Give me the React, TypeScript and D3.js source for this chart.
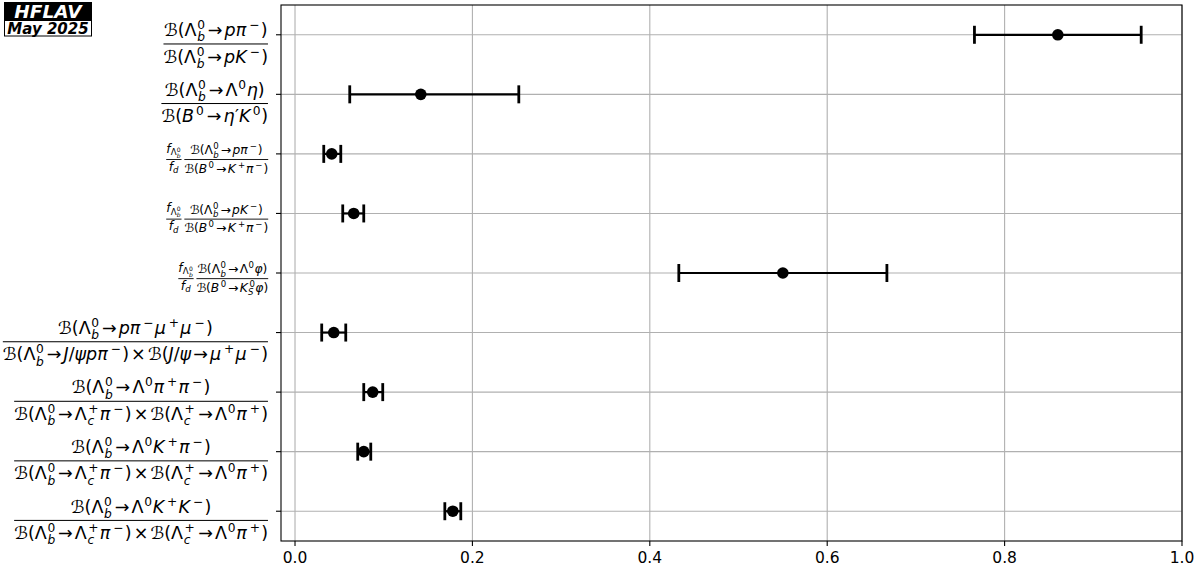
import React, { useEffect, useRef } from 'react';
import * as d3 from 'd3';

// ---------------- data ----------------
const rowNumerators = [
  'ℬ(Λ_b^0→pπ^−)',
  'ℬ(Λ_b^0→Λ^0η)',
  'ℬ(Λ_b^0→pπ^−)',
  'ℬ(Λ_b^0→pK^−)',
  'ℬ(Λ_b^0→Λ^0φ)',
  'ℬ(Λ_b^0→pπ^−μ^+μ^−)',
  'ℬ(Λ_b^0→Λ^0π^+π^−)',
  'ℬ(Λ_b^0→Λ^0K^+π^−)',
  'ℬ(Λ_b^0→Λ^0K^+K^−)',
];
const rowDenominators = [
  'ℬ(Λ_b^0→pK^−)',
  'ℬ(B^0→η′K^0)',
  'ℬ(B^0→K^+π^−)',
  'ℬ(B^0→K^+π^−)',
  'ℬ(B^0→K_S^0φ)',
  'ℬ(Λ_b^0→J/ψpπ^−)×ℬ(J/ψ→μ^+μ^−)',
  'ℬ(Λ_b^0→Λ_c^+π^−)×ℬ(Λ_c^+→Λ^0π^+)',
  'ℬ(Λ_b^0→Λ_c^+π^−)×ℬ(Λ_c^+→Λ^0π^+)',
  'ℬ(Λ_b^0→Λ_c^+π^−)×ℬ(Λ_c^+→Λ^0π^+)',
];
const rowHasFragRatio = [false, false, true, true, true, false, false, false, false];
const fragNumerator = 'f_{Λ_b^0}';
const fragDenominator = 'f_d';

const centralValues = [0.86, 0.1418, 0.0414, 0.0662, 0.55, 0.0437, 0.0876, 0.0775, 0.1779];
const lowerBounds = [0.766, 0.0617, 0.0324, 0.0538, 0.4327, 0.0301, 0.0775, 0.0707, 0.1689];
const upperBounds = [0.954, 0.2523, 0.0516, 0.0775, 0.6673, 0.0572, 0.0989, 0.0854, 0.1869];

const xTicks = [0.0, 0.2, 0.4, 0.6, 0.8, 1.0];
const xDomain = [-0.0158, 1.0];
const logoTitle = 'HFLAV';
const logoDate = 'May 2025';

// ---------------- mini math renderer ----------------
type Item = { t: string; it: boolean; sp: number; sup?: Item[]; sub?: Item[] };

function spacingFor(c: string) {
  if (c === '→') return 0.12;
  if (c === '×') return 0.12;
  if (c === '+' || c === '−') return 0.07;
  return 0;
}

function parse(s: string): Item[] {
  const chars = Array.from(s);
  let i = 0;
  const parseArg = (): Item[] => {
    if (chars[i] === '{') {
      let depth = 1;
      let j = i + 1;
      while (depth > 0 && j < chars.length) {
        if (chars[j] === '{') depth++;
        else if (chars[j] === '}') depth--;
        j++;
      }
      const inner = chars.slice(i + 1, j - 1).join('');
      i = j;
      return parse(inner);
    }
    const c = chars[i];
    i++;
    return parse(c);
  };
  const out: Item[] = [];
  while (i < chars.length) {
    const c = chars[i];
    i++;
    const item: Item = {
      t: c,
      it: /[A-Za-zα-ω]/.test(c),
      sp: spacingFor(c),
    };
    while (chars[i] === '^' || chars[i] === '_') {
      const k = chars[i];
      i++;
      const arg = parseArg();
      if (k === '^') item.sup = arg;
      else item.sub = arg;
    }
    out.push(item);
  }
  return out;
}

function charAsc(c: string) {
  if ('()/ℬ′bdfhklψφJ'.includes(c)) return 0.76;
  if ('pπημcaeosrxnm'.includes(c)) return 0.55;
  if ('−+→×'.includes(c)) return 0.6;
  return 0.73;
}
function charDesc(c: string) {
  if ('()/'.includes(c)) return 0.13;
  if ('pηψμφJ'.includes(c)) return 0.21;
  return 0;
}

type Metrics = { w: number; asc: number; desc: number };

function drawSeq(g: any, items: Item[], size: number): Metrics {
  let x = 0;
  let asc = 0;
  let desc = 0;
  items.forEach((it, idx) => {
    const isLast = idx === items.length - 1;
    if (it.t === '′') x += 0.03 * size;
    x += it.sp * size;
    const t = g
      .append('text')
      .attr('x', x)
      .attr('y', 0)
      .attr('font-size', size)
      .attr('font-style', it.it ? 'italic' : 'normal')
      .text(it.t);
    const w = (t.node() as SVGTextElement).getComputedTextLength();
    x += w;
    if (!isLast || it.t === '→' || it.t === '×') x += it.sp * size;
    else if (it.t === '+' || it.t === '−') x += it.sp * size * 0.6;
    asc = Math.max(asc, charAsc(it.t) * size);
    desc = Math.max(desc, charDesc(it.t) * size);
    if (it.sup || it.sub) {
      const ss = size * 0.7;
      const xoff = x + 0.04 * size;
      let sw = 0;
      if (it.sup) {
        const up = 0.4 * size;
        const slant = it.it ? 0.08 * size : 0;
        const gs = g.append('g').attr('transform', `translate(${xoff + slant},${-up})`);
        const m = drawSeq(gs, it.sup, ss);
        sw = Math.max(sw, m.w + slant);
        asc = Math.max(asc, up + m.asc);
        desc = Math.max(desc, m.desc - up);
      }
      if (it.sub) {
        const dn = (it.sup ? 0.3 : 0.2) * size;
        const slant = it.it ? -0.03 * size : 0;
        const gs = g.append('g').attr('transform', `translate(${xoff + slant},${dn})`);
        const m = drawSeq(gs, it.sub, ss);
        sw = Math.max(sw, m.w + slant);
        asc = Math.max(asc, m.asc - dn);
        desc = Math.max(desc, dn + m.desc);
      }
      x = xoff + sw + 0.04 * size;
    }
  });
  return { w: x, asc, desc };
}

function drawFrac(g: any, num: string, den: string, size: number, axis: number): Metrics {
  const gn = g.append('g');
  const gd = g.append('g');
  const mn = drawSeq(gn, parse(num), size);
  const md = drawSeq(gd, parse(den), size);
  const w = Math.max(mn.w, md.w);
  const t = Math.max(0.9, 0.058 * size);
  const gap = 0.12 * size;
  const nb = -axis - t / 2 - gap - mn.desc;
  const db = -axis + t / 2 + gap + md.asc;
  gn.attr('transform', `translate(${(w - mn.w) / 2},${nb})`);
  gd.attr('transform', `translate(${(w - md.w) / 2},${db})`);
  g.append('rect')
    .attr('x', 0)
    .attr('y', -axis - t / 2)
    .attr('width', w)
    .attr('height', t)
    .attr('fill', '#000');
  return { w: w + 2 * t, asc: -nb + mn.asc, desc: db + md.desc };
}

// ---------------- chart ----------------
const BIG = 17.5;
const SMALL = BIG * 0.7;
const AXIS = 0.31 * BIG;

export default function App() {
  const ref = useRef<SVGSVGElement | null>(null);

  useEffect(() => {
    const svg = d3.select(ref.current);
    svg.selectAll('*').remove();

    const left = 281;
    const right = 1182;
    const top = 5;
    const bottom = 541;

    const x = d3.scaleLinear().domain(xDomain).range([left, right]);
    const y = d3
      .scaleLinear()
      .domain([-0.5, centralValues.length - 0.5])
      .range([top, bottom]);

    const root = svg.append('g').attr('font-family', 'DejaVu Sans');

    // grid
    const grid = root.append('g').attr('stroke', '#b0b0b0').attr('stroke-width', 1.1);
    xTicks.forEach((v) => {
      grid.append('line').attr('x1', x(v)).attr('x2', x(v)).attr('y1', top).attr('y2', bottom);
    });
    centralValues.forEach((_, i) => {
      grid.append('line').attr('x1', left).attr('x2', right).attr('y1', y(i)).attr('y2', y(i));
    });

    // error bars
    const eb = root.append('g');
    centralValues.forEach((v, i) => {
      const yy = y(i);
      eb.append('line')
        .attr('x1', x(lowerBounds[i]))
        .attr('x2', x(upperBounds[i]))
        .attr('y1', yy)
        .attr('y2', yy)
        .attr('stroke', '#000')
        .attr('stroke-width', 2.2);
      [lowerBounds[i], upperBounds[i]].forEach((b) => {
        eb.append('line')
          .attr('x1', x(b))
          .attr('x2', x(b))
          .attr('y1', yy - 9)
          .attr('y2', yy + 9)
          .attr('stroke', '#000')
          .attr('stroke-width', 2.8);
      });
      eb.append('circle').attr('cx', x(v)).attr('cy', yy).attr('r', 5.8).attr('fill', '#000');
    });

    // frame
    root
      .append('rect')
      .attr('x', left)
      .attr('y', top)
      .attr('width', right - left)
      .attr('height', bottom - top)
      .attr('fill', 'none')
      .attr('stroke', '#000')
      .attr('stroke-width', 1.1);

    // x ticks
    const tk = root.append('g');
    xTicks.forEach((v) => {
      tk.append('line')
        .attr('x1', x(v))
        .attr('x2', x(v))
        .attr('y1', bottom)
        .attr('y2', bottom + 5)
        .attr('stroke', '#000')
        .attr('stroke-width', 1.1);
      tk.append('text')
        .attr('x', x(v))
        .attr('y', 563)
        .attr('text-anchor', 'middle')
        .attr('font-size', 15.5)
        .text(d3.format('.1f')(v));
    });

    // y ticks and labels
    centralValues.forEach((_, i) => {
      const yy = y(i);
      tk.append('line')
        .attr('x1', left - 5)
        .attr('x2', left)
        .attr('y1', yy)
        .attr('y2', yy)
        .attr('stroke', '#000')
        .attr('stroke-width', 1.1);

      const lg = root.append('g');
      let m: Metrics;
      if (rowHasFragRatio[i]) {
        const g1 = lg.append('g');
        const m1 = drawFrac(g1, fragNumerator, fragDenominator, SMALL, AXIS);
        const g2 = lg.append('g').attr('transform', `translate(${m1.w + 1},0)`);
        const m2 = drawFrac(g2, rowNumerators[i], rowDenominators[i], SMALL, AXIS);
        m = { w: m1.w + 1 + m2.w, asc: Math.max(m1.asc, m2.asc), desc: Math.max(m1.desc, m2.desc) };
      } else {
        m = drawFrac(lg, rowNumerators[i], rowDenominators[i], BIG, AXIS);
      }
      const baseline = yy + m.asc / 2;
      lg.attr('transform', `translate(${270 - m.w},${baseline})`);
    });

    // logo
    const logo = root.append('g');
    logo.append('rect').attr('x', 4).attr('y', 2).attr('width', 88).attr('height', 18).attr('fill', '#000');
    logo
      .append('text')
      .attr('x', 48)
      .attr('y', 17.5)
      .attr('text-anchor', 'middle')
      .attr('font-size', 18.5)
      .attr('font-weight', 'bold')
      .attr('font-style', 'italic')
      .attr('fill', '#fff')
      .text(logoTitle);
    logo
      .append('rect')
      .attr('x', 4.5)
      .attr('y', 20.5)
      .attr('width', 87)
      .attr('height', 15.5)
      .attr('fill', '#fff')
      .attr('stroke', '#000')
      .attr('stroke-width', 1);
    logo
      .append('text')
      .attr('x', 48)
      .attr('y', 33.5)
      .attr('text-anchor', 'middle')
      .attr('font-size', 15)
      .attr('font-weight', 'bold')
      .attr('font-style', 'italic')
      .attr('fill', '#000')
      .text(logoDate);
  }, []);

  return (
    <svg
      ref={ref}
      width={1200}
      height={576}
      style={{ position: 'absolute', left: 0, top: 0, display: 'block', background: '#fff' }}
    />
  );
}
